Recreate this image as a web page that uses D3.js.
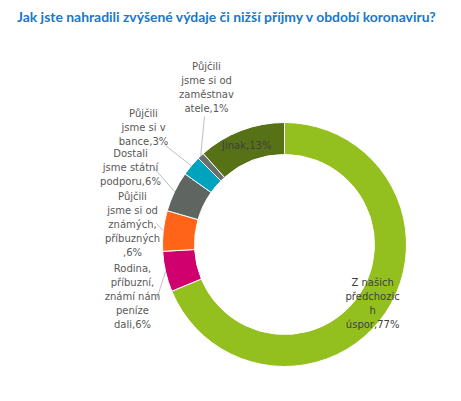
<!DOCTYPE html>
<html>
<head>
<meta charset="utf-8">
<script src="https://cdn.jsdelivr.net/npm/d3@7"></script>
<style>
    body { margin: 0; background: #fff; }
    svg { display: block; }
</style>
</head>
<body>
<div class="chart"></div>
<script>
//
// DATA
//
const title = 'Jak jste nahradili zvýšené výdaje či nižší příjmy v období koronaviru?'
const categories = [
    'Z našich předchozích úspor',
    'Rodina, příbuzní, známí nám peníze dali',
    'Půjčili jsme si od známých, příbuzných',
    'Dostali jsme státní podporu',
    'Půjčili jsme si v bance',
    'Půjčili jsme si od zaměstnavatele',
    'Jinak'
]
const values = [77, 6, 6, 6, 3, 1, 13]
// labels as they wrap in the original
const labelLines = [
    ['Z našich', 'předchozic', 'h', 'úspor,77%'],
    ['Rodina,', 'příbuzní,', 'známí nám', 'peníze', 'dali,6%'],
    ['Půjčili', 'jsme si od', 'známých,', 'příbuzných', ',6%'],
    ['Dostali', 'jsme státní', 'podporu,6%'],
    ['Půjčili', 'jsme si v', 'bance,3%'],
    ['Půjčili', 'jsme si od', 'zaměstnav', 'atele,1%'],
    ['Jinak,13%']
]
const colors = ['#93c01f', '#d0006f', '#ff6418', '#5f6661', '#00a3bd', '#6b6e6e', '#577116']

//
// GLOBALS
//
const width = 461
const height = 401
const cx = 284.5
const cy = 244.5
const outerR = 122
const innerR = 90
const lineH = 14
// outside labels: text position and leader start, relative to pie centre
// (null = label sits inside the slice)
const outside = [
    null,
    { tx: -152, ty: 27, lx: -128, ly: 55 },
    { tx: -152, ty: -45, lx: -128, ly: -21 },
    { tx: -154, ty: -88, lx: -131, ly: -77 },
    { tx: -141, ty: -128, lx: -119, ly: -99 },
    { tx: -78, ty: -175, lx: -80, ly: -128 },
    null
]

const svg = d3.select('.chart')
    .append('svg')
    .attr('width', width)
    .attr('height', height)

// title, sized so it spans the same width as the original
const titleText = svg.append('text')
    .attr('x', 17)
    .attr('y', 22)
    .style('font-family', 'Lato, "Open Sans", sans-serif')
    .style('font-weight', 'bold')
    .style('font-size', '15px')
    .attr('fill', '#1a78c6')
    .text(title)
const natural = titleText.node().getComputedTextLength()
titleText.style('font-size', `${(15 * 419 / natural).toFixed(2)}px`)

// pie
const pie = d3.pie().sort(null).value(d => d)
const arcs = pie(values)
const arc = d3.arc().innerRadius(innerR).outerRadius(outerR)

const g = svg.append('g').attr('transform', `translate(${cx},${cy})`)

g.selectAll('path.slice')
    .data(arcs)
    .join('path')
    .attr('class', 'slice')
    .attr('d', arc)
    .attr('fill', (d, i) => colors[i])
    .attr('stroke', '#fff')
    .attr('stroke-width', 1)

// leader lines from the label to the outer edge of the slice
const edge = a => {
    const m = (a.startAngle + a.endAngle) / 2
    return [outerR * Math.sin(m), -outerR * Math.cos(m)]
}
arcs.forEach((a, i) => {
    const o = outside[i]
    if (!o) return
    const [ex, ey] = edge(a)
    g.append('line')
        .attr('x1', o.lx)
        .attr('y1', o.ly)
        .attr('x2', ex)
        .attr('y2', ey)
        .attr('stroke', '#bfbfbf')
        .attr('stroke-width', 1)
})

// data labels
arcs.forEach((a, i) => {
    const o = outside[i]
    const lines = labelLines[i]
    let x, y0
    if (o) {
        x = o.tx
        y0 = o.ty
    } else {
        const c = arc.centroid(a)
        x = c[0]
        y0 = c[1] - (lines.length - 1) * lineH / 2 + 4
    }
    const t = g.append('text')
        .attr('text-anchor', 'middle')
        .style('font-family', '"DejaVu Sans", sans-serif')
        .style('font-size', '10px')
        .attr('fill', o ? '#595959' : '#404040')
    lines.forEach((l, k) => {
        t.append('tspan')
            .attr('x', x)
            .attr('y', y0 + k * lineH)
            .text(l)
    })
    t.append('title').text(categories[i])
})
</script>
</body>
</html>
